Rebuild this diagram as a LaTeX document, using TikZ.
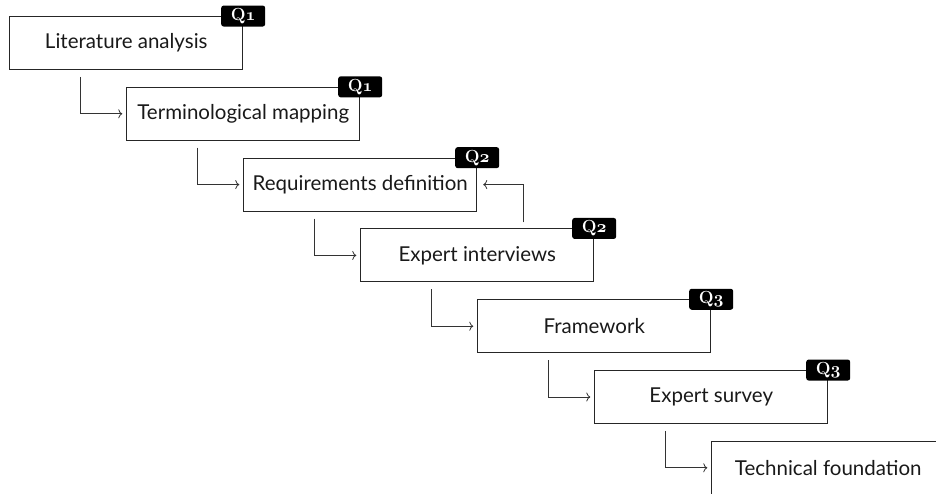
\documentclass[tikz,border=0pt]{standalone}
\usepackage{fontspec}
\setsansfont{Lato}
\usetikzlibrary{arrows.meta}
% bold old-style digit taken from the math letter font
\newcommand\qnum[1]{{\boldmath$\mathnormal{#1}$}}
\begin{document}
\begin{tikzpicture}[x=1pt,y=-1pt,
  stage/.style={draw=black!85, line width=0.9pt, minimum width=233pt,
    minimum height=53pt, inner sep=0pt, text=black!90,
    font=\sffamily\fontsize{20.5}{24}\selectfont},
  tag/.style={fill=black, rounded corners=2.5pt, minimum width=44pt,
    minimum height=21pt, inner sep=0pt, text=white,
    font=\bfseries\fontsize{17.5}{19}\selectfont},
  flow/.style={draw=black!80, line width=0.8pt,
    -{To[length=4pt,width=9pt]}},
]
\useasboundingbox (0,0) rectangle (936,494);
\clip (0,0) rectangle (936,494);

% process stages, stepping down to the right
\node[stage] (b1) at (126.25,43)    {Literature analysis};
\node[stage] (b2) at (243.25,113.8) {Terminological mapping};
\node[stage] (b3) at (360.25,184.6) {Requirements definition};
\node[stage] (b4) at (477.25,255.4) {Expert interviews};
\node[stage] (b5) at (594.25,326.2) {Framework};
\node[stage] (b6) at (711.25,397)   {Expert survey};
\node[stage] (b7) at (828.25,467.8) {Technical foundation};

% research question tags on the top right corners
\node[tag] (q1) at (b1.north east) {Q\qnum{1}};
\node[tag] (q2) at (b2.north east) {Q\qnum{1}};
\node[tag] (q3) at (b3.north east) {Q\qnum{2}};
\node[tag] (q4) at (b4.north east) {Q\qnum{2}};
\node[tag] (q5) at (b5.north east) {Q\qnum{3}};
\node[tag] (q6) at (b6.north east) {Q\qnum{3}};

% forward flow between stages
\draw[flow] ([xshift=-46.25pt,yshift=-7pt]b1.south) |- ([xshift=-4pt]b2.west);
\draw[flow] ([xshift=-46.25pt,yshift=-7pt]b2.south) |- ([xshift=-4pt]b3.west);
\draw[flow] ([xshift=-46.25pt,yshift=-7pt]b3.south) |- ([xshift=-4pt]b4.west);
\draw[flow] ([xshift=-46.25pt,yshift=-7pt]b4.south) |- ([xshift=-4pt]b5.west);
\draw[flow] ([xshift=-46.25pt,yshift=-7pt]b5.south) |- ([xshift=-4pt]b6.west);
\draw[flow] ([xshift=-46.25pt,yshift=-7pt]b6.south) |- ([xshift=-4pt]b7.west);

% feedback from the interviews to the requirements
\draw[flow] ([xshift=46pt,yshift=6pt]b4.north) |- ([xshift=6pt]b3.east);
\end{tikzpicture}
\end{document}
